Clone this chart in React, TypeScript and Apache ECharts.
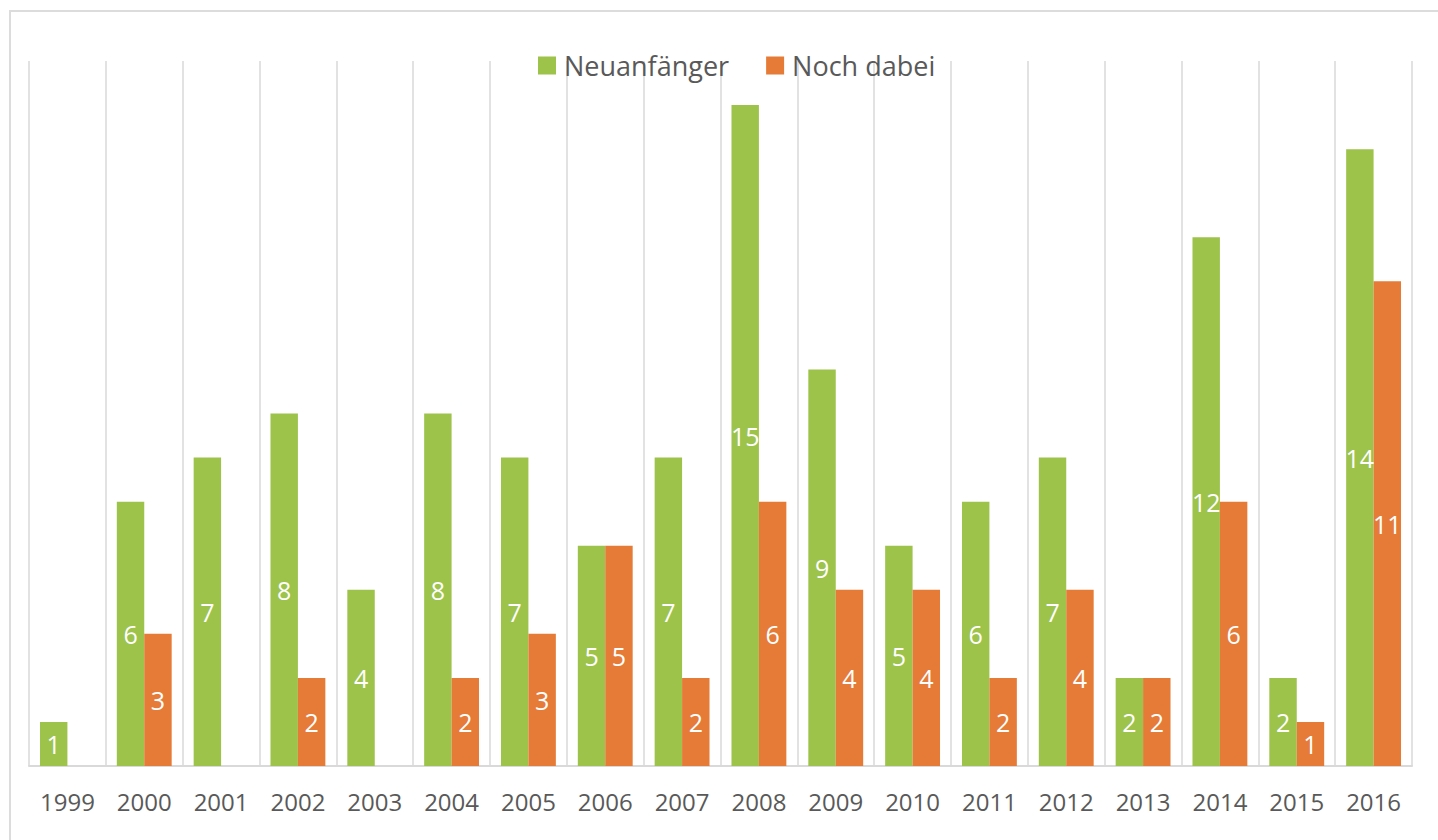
import React, { useEffect, useRef } from "react";
import * as echarts from "echarts";

const years = ["1999", "2000", "2001", "2002", "2003", "2004", "2005", "2006", "2007", "2008", "2009", "2010", "2011", "2012", "2013", "2014", "2015", "2016"];
const neuanfaenger = [1, 6, 7, 8, 4, 8, 7, 5, 7, 15, 9, 5, 6, 7, 2, 12, 2, 14];
const nochDabei: (number | null)[] = [null, 3, null, 2, null, 2, 3, 5, 2, 6, 4, 4, 2, 4, 2, 6, 1, 11];
const seriesNames = ["Neuanfänger", "Noch dabei"];
const colors = ["#9DC34B", "#E57B37"];

const FONT = "'Open Sans', sans-serif";

export default function App() {
  const ref = useRef<HTMLDivElement>(null);
  useEffect(() => {
    if (!ref.current) return;
    const chart = echarts.init(ref.current, null, { renderer: "svg" });
    const label = {
      show: true,
      position: "inside",
      color: "#ffffff",
      fontSize: 25,
      fontFamily: FONT,
    };
    chart.setOption({
      animation: false,
      backgroundColor: "#ffffff",
      graphic: [
        {
          type: "rect",
          shape: { x: 10, y: 11, width: 1450, height: 860 },
          style: { fill: "none", stroke: "#dcdcdc", lineWidth: 2 },
          silent: true,
        },
      ],
      legend: {
        top: 47,
        left: 533,
        itemWidth: 18,
        itemHeight: 18,
        itemGap: 37,
        icon: "rect",
        textStyle: { color: "#595959", fontSize: 27, fontFamily: FONT, padding: [0, 0, 0, 3] },
        data: seriesNames,
      },
      grid: { left: 29, right: 26, top: 61, bottom: 74, containLabel: false },
      xAxis: {
        type: "category",
        data: years,
        axisTick: { show: false },
        axisLine: { lineStyle: { color: "#d9d9d9", width: 2 } },
        splitLine: { show: true, lineStyle: { color: "#d9d9d9", width: 1.5 } },
        axisLabel: { color: "#595959", fontSize: 24, fontFamily: FONT, margin: 23 },
      },
      yAxis: {
        type: "value",
        min: 0,
        max: 16,
        interval: 1,
        show: false,
        splitLine: { show: false },
      },
      series: [
        {
          name: seriesNames[0],
          type: "bar",
          data: neuanfaenger,
          itemStyle: { color: colors[0] },
          barGap: "0%",
          barCategoryGap: "28.6%",
          label,
        },
        {
          name: seriesNames[1],
          type: "bar",
          data: nochDabei,
          itemStyle: { color: colors[1] },
          barGap: "0%",
          barCategoryGap: "28.6%",
          label,
        },
      ],
    });
    return () => chart.dispose();
  }, []);
  return (
    <div
      ref={ref}
      style={{ position: "fixed", left: 0, top: 0, width: 1438, height: 840 }}
    />
  );
}
